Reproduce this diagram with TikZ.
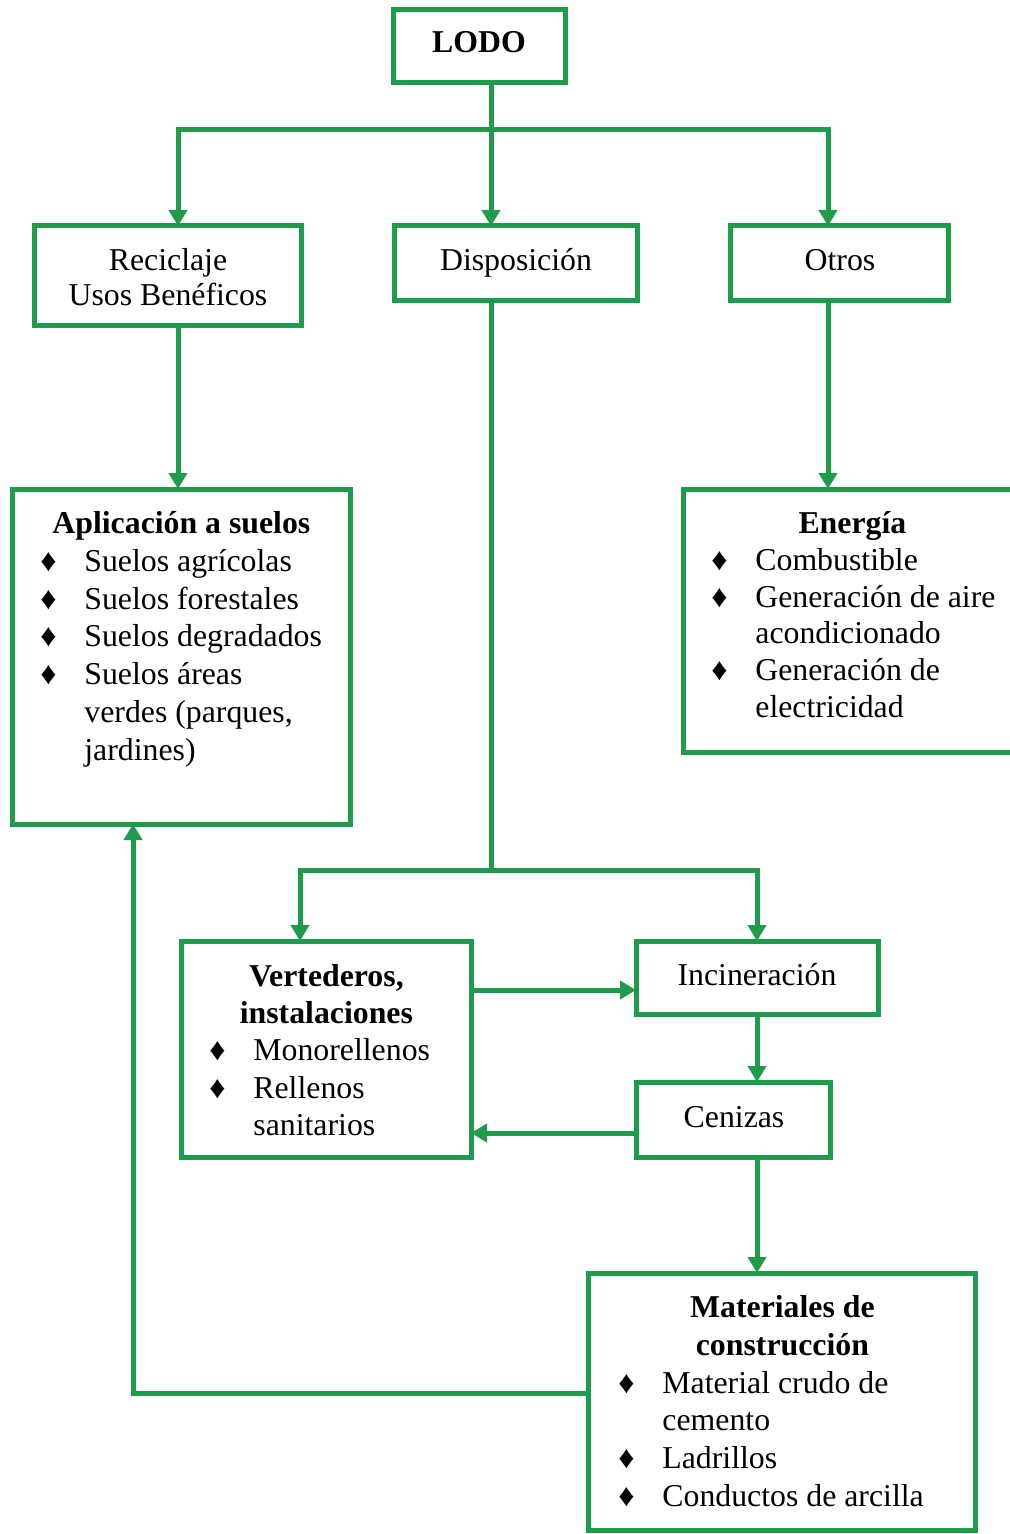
\documentclass[tikz,border=0pt]{standalone}
\usepackage{fontspec}
\setmainfont{Liberation Serif}
\usetikzlibrary{arrows.meta,fit}
\definecolor{lgreen}{RGB}{30,155,75}
\newcommand\bul{\makebox[22pt][l]{♦}}
\newcommand\ind{\hspace*{22pt}}
\begin{document}
\begin{tikzpicture}[x=0.5pt,y=-0.5pt,
 box/.style={draw=lgreen, line width=2.5pt, inner sep=0pt, outer sep=0pt},
 conn/.style={draw=lgreen, line width=2.5pt, line join=miter},
 arr/.style={conn, -{Triangle[length=8pt,width=9pt]}},
 arrtwo/.style={conn, {Triangle[length=8pt,width=9pt]}-{Triangle[length=8pt,width=9pt]}},
 txt/.style={inner sep=0pt, font=\fontsize{15.9}{18.9}\selectfont},
 lst/.style={txt, anchor=north west, align=left}]
\useasboundingbox (0,0) rectangle (1010,1534);
\clip (0,0) rectangle (1010,1534);

% boxes
\node[box, fit={(393,10)(565,83)}] (lodo) {};
\node[box, fit={(34,226)(301,326)}] (rec) {};
\node[box, fit={(394,226)(637,301)}] (disp) {};
\node[box, fit={(730,226)(948,301)}] (otros) {};
\node[box, fit={(12,489)(350,824)}] (apl) {};
\node[box, fit={(683,489)(1030,752)}] (ener) {};
\node[box, fit={(181,941)(471,1157)}] (vert) {};
\node[box, fit={(636,941)(878,1014)}] (inc) {};
\node[box, fit={(636,1082)(830,1157)}] (cen) {};
\node[box, fit={(588,1273)(975,1530)}] (mat) {};

% single texts
\node[txt, anchor=base, font=\fontsize{15.9}{18.9}\selectfont\bfseries] (tlodo) at (479,53) {LODO};
\node[txt, anchor=base] (trec1) at (168,271) {Reciclaje};
\node[txt, anchor=base] (trec2) at (168,306) {Usos Benéficos};
\node[txt, anchor=base] (tdisp) at (516,271) {Disposición};
\node[txt, anchor=base] (totros) at (840,271) {Otros};
\node[txt, anchor=base] (tinc) at (757,985) {Incineración};
\node[txt, anchor=base] (tcen) at (734,1127) {Cenizas};

% list texts
\node[lst] (tapl) at (40,505) {\rule{0pt}{14pt}\makebox[141pt]{\bfseries Aplicación a suelos}\\
\bul Suelos agrícolas\\
\bul Suelos forestales\\
\bul Suelos degradados\\
\bul Suelos áreas\\
\ind verdes (parques,\\
\ind jardines)};

\node[lst, font=\fontsize{15.9}{18.4}\selectfont] (tener) at (711,505) {\rule{0pt}{14pt}\makebox[141pt]{\bfseries Energía}\\
\bul Combustible\\
\bul Generación de aire\\
\ind acondicionado\\
\bul Generación de\\
\ind electricidad};

\node[lst, font=\fontsize{15.9}{18.6}\selectfont] (tvert) at (209,958) {\rule{0pt}{14pt}\makebox[117pt]{\bfseries Vertederos,}\\
\makebox[117pt]{\bfseries instalaciones}\\
\bul Monorellenos\\
\bul Rellenos\\
\ind sanitarios};

\node[lst] (tmat) at (618,1289) {\rule{0pt}{14pt}\makebox[164pt]{\bfseries Materiales de}\\
\makebox[164pt]{\bfseries construcción}\\
\bul Material crudo de\\
\ind cemento\\
\bul Ladrillos\\
\bul Conductos de arcilla};

% junctions
\coordinate (jl) at (178,130);
\coordinate (jm) at (491,130);
\coordinate (jr) at (828,130);
\coordinate (kl) at (300,870);
\coordinate (km) at (491,870);
\coordinate (kr) at (757,870);
\coordinate (h1) at (0,990);
\coordinate (h2) at (0,1133);
\coordinate (jb) at (133,1393);

% connectors
\draw[arrtwo] (rec.north -| jl) -- (jl) -- (jr) -- (otros.north -| jr);
\draw[arr] (lodo.south -| jm) -- (disp.north -| jm);
\draw[arr] (rec.south -| jl) -- (apl.north -| jl);
\draw[arr] (otros.south -| jr) -- (ener.north -| jr);
\draw[conn] (disp.south -| km) -- (km);
\draw[arrtwo] (vert.north -| kl) -- (kl) -- (kr) -- (inc.north -| kr);
\draw[arr] (vert.east |- h1) -- (inc.west |- h1);
\draw[arr] (inc.south -| kr) -- (cen.north -| kr);
\draw[arr] (cen.west |- h2) -- (vert.east |- h2);
\draw[arr] (cen.south -| kr) -- (mat.north -| kr);
\draw[arr] (mat.west |- jb) -- (jb) -- (apl.south -| jb);
\end{tikzpicture}
\end{document}
